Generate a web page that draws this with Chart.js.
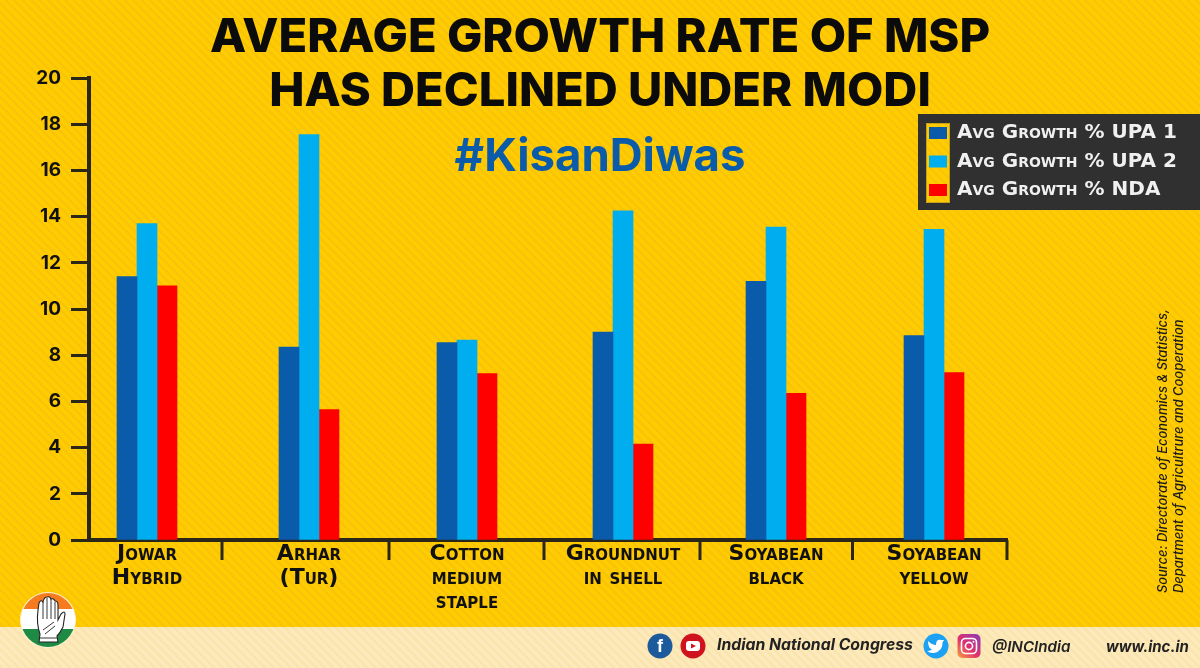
<!DOCTYPE html>
<html><head><meta charset="utf-8">
<style>html,body{margin:0;padding:0;background:#FFCC00}canvas{display:block}</style>
<script src="https://cdn.jsdelivr.net/npm/chart.js@4"></script>
</head><body><canvas id="c" width="1200" height="668"></canvas>
<script>
const categories = [["Jowar","Hybrid"],["Arhar","(Tur)"],["Cotton","medium","staple"],["Groundnut","in shell"],["Soyabean","black"],["Soyabean","yellow"]];
const upa1 = [11.4,8.35,8.55,9.0,11.2,8.85];
const upa2 = [13.7,17.55,8.65,14.25,13.55,13.45];
const nda  = [11.0,5.65,7.2,4.15,6.35,7.25];
const seriesNames = ["Avg Growth % UPA 1","Avg Growth % UPA 2","Avg Growth % NDA"];
const yTicks = [0,2,4,6,8,10,12,14,16,18,20];
const titleLines = ["AVERAGE GROWTH RATE OF MSP","HAS DECLINED UNDER MODI"];
const hashtag = "#KisanDiwas";
const sourceLines = ["Source: Directorate of Economics & Statistics,","Department of Agricultrure and Cooperation"];

const DARK = "#2a2618", FONT = "Inter, 'Noto Sans', sans-serif", CAPSFONT = "'DejaVu Sans', sans-serif";
const groupCentres = [147,309,467,623,776,934];   // uneven group spacing of the original layout
const bandEdges = [222,389,544,700,852.5,1007];

function stripes(ctx, x, y, w, h, base, line){
  ctx.save(); ctx.beginPath(); ctx.rect(x,y,w,h); ctx.clip();
  ctx.fillStyle = base; ctx.fillRect(x,y,w,h);
  ctx.strokeStyle = line; ctx.lineWidth = 2.2;
  for(let i=-700;i<1250;i+=8.5){ ctx.beginPath(); ctx.moveTo(i,0); ctx.lineTo(i+700,700); ctx.stroke(); }
  ctx.restore();
}
function drawLogo(ctx){
  const cx=48,cy=620,r=27;
  ctx.save();
  ctx.beginPath(); ctx.arc(cx,cy,r+1,0,Math.PI*2); ctx.fillStyle="#FDF3D0"; ctx.fill();
  ctx.beginPath(); ctx.arc(cx,cy,r,0,Math.PI*2); ctx.clip();
  ctx.fillStyle="#fff"; ctx.fillRect(cx-r,cy-r,2*r,2*r);
  ctx.fillStyle="#F47B20"; ctx.fillRect(cx-r,cy-r,2*r,16);
  ctx.fillStyle="#1E8A44"; ctx.fillRect(cx-r,629,2*r,20);
  ctx.restore();
  ctx.save();
  ctx.beginPath();
  ctx.moveTo(39,642); ctx.lineTo(40,634); ctx.bezierCurveTo(37,626,37,618,38,610);
  ctx.lineTo(39,603); ctx.quadraticCurveTo(41,599,43,602);
  ctx.quadraticCurveTo(44,597,47,597); ctx.quadraticCurveTo(50,596,51,599);
  ctx.quadraticCurveTo(54,598,55,601); ctx.quadraticCurveTo(58,601,58,605);
  ctx.lineTo(58,620); ctx.lineTo(61,614); ctx.quadraticCurveTo(65,610,65,614);
  ctx.lineTo(63,627); ctx.quadraticCurveTo(60,633,57,636); ctx.lineTo(58,642); ctx.closePath();
  ctx.fillStyle="#fff"; ctx.fill(); ctx.strokeStyle="#222"; ctx.lineWidth=1.1; ctx.stroke();
  ctx.beginPath();
  [[43,602,43,619],[47,598,47,619],[51,599,51,619],[55,602,55,619],[43,630,54,622],[45,634,55,626],[40,638,57,638]].forEach(l=>{ctx.moveTo(l[0],l[1]);ctx.lineTo(l[2],l[3]);});
  ctx.lineWidth=.9; ctx.stroke();
  ctx.restore();
}
function drawSocial(ctx){
  const Y=646;
  const circle=(x,c)=>{ctx.beginPath();ctx.arc(x,Y,12.5,0,Math.PI*2);ctx.fillStyle=c;ctx.fill();};
  ctx.save();
  circle(660,"#1C5A9C"); circle(693,"#D0121F"); circle(936,"#1DA1F2");
  ctx.fillStyle="#fff"; ctx.textAlign="center"; ctx.textBaseline="middle";
  ctx.font="700 18px 'Liberation Sans'"; ctx.fillText("f",660,Y+1);
  ctx.beginPath(); ctx.roundRect(686,Y-5,14,10,3); ctx.fill();
  ctx.fillStyle="#D0121F"; ctx.beginPath(); ctx.moveTo(691,Y-2.5); ctx.lineTo(696,Y); ctx.lineTo(691,Y+2.5); ctx.fill();
  ctx.save(); ctx.translate(32,0);
  ctx.fillStyle="#fff"; ctx.beginPath();
  ctx.moveTo(896,641); ctx.quadraticCurveTo(900,645,904,645); ctx.quadraticCurveTo(904,639,909,640);
  ctx.lineTo(912,640); ctx.lineTo(910.5,642.5); ctx.quadraticCurveTo(911,651,902,653);
  ctx.quadraticCurveTo(898,653.5,895,651); ctx.quadraticCurveTo(898,651,900,649.5);
  ctx.quadraticCurveTo(896,648,896,641); ctx.fill();
  ctx.restore();
  const g=ctx.createLinearGradient(958,658,980,634);
  g.addColorStop(0,"#F9A03C"); g.addColorStop(.45,"#E1306C"); g.addColorStop(1,"#8A3AB9");
  ctx.fillStyle=g; ctx.beginPath(); ctx.roundRect(957.5,634,23,24,5); ctx.fill();
  ctx.strokeStyle="#fff"; ctx.lineWidth=1.6;
  ctx.beginPath(); ctx.roundRect(961.5,638.5,15,15,4); ctx.stroke();
  ctx.beginPath(); ctx.arc(969,646,3.6,0,Math.PI*2); ctx.stroke();
  ctx.fillStyle="#fff"; ctx.beginPath(); ctx.arc(973.5,641.8,1,0,Math.PI*2); ctx.fill();
  ctx.restore();
}
const backdrop = {
  id:"backdrop",
  afterLayout(chart){
    const l = chart.legend;
    l.left=920.5; l.top=114.5; l.right=1199; l.bottom=260; l.width=278.5; l.height=145.5;
    chart.boxes.filter(b=>b.options && b.options.text && (b.options.text===hashtag||b.options.text===titleLines))
      .forEach(b=>{ b.left=0; b.right=1200; b.width=1200; });
  },
  beforeDraw(chart){
    const ctx=chart.ctx;
    stripes(ctx,0,0,1200,627,"#FFCC00","#F8C30A");
    stripes(ctx,0,627,1200,41,"#FCE9BC","#FBE3AC");
    ctx.fillStyle="#303030"; ctx.fillRect(918,114,282,96);
    stripes(ctx,926,123,24,80,"#FFCC00","#F8C30A");
    ctx.strokeStyle="#C9A118"; ctx.lineWidth=1; ctx.strokeRect(926.5,123.5,23,79);
  },
  afterDraw(chart){
    const ctx=chart.ctx, y0=chart.scales.y.getPixelForValue(0);
    ctx.save();
    ctx.strokeStyle=DARK; ctx.lineWidth=3;
    bandEdges.forEach(x=>{ctx.beginPath();ctx.moveTo(x,y0);ctx.lineTo(x,y0+20);ctx.stroke();});
    ctx.fillStyle="#1a1a1a"; ctx.textBaseline="middle";
    ctx.font="italic 500 12.9px "+FONT;
    [[1163,593,sourceLines[0]],[1179,593,sourceLines[1]]].forEach(s=>{
      ctx.save(); ctx.translate(s[0],s[1]); ctx.rotate(-Math.PI/2); ctx.fillText(s[2],0,0); ctx.restore();
    });
    ctx.fillStyle="#222";
    ctx.font="italic 700 15.8px "+FONT; ctx.fillText("Indian National Congress",717,645);
    ctx.font="italic 600 15.2px "+FONT; ctx.fillText("@INCIndia",992,647);
    ctx.font="italic 700 15px "+FONT; ctx.fillText("www.inc.in",1106,647);
    ctx.restore();
    drawSocial(ctx); drawLogo(ctx);
  }
};
const ds=(label,data,color)=>({label,data,backgroundColor:color,borderWidth:0,barThickness:20,grouped:true});
new Chart(document.getElementById("c"),{
  type:"bar",
  data:{labels:categories,datasets:[ds(seriesNames[0],upa1,"#0A5BAA"),ds(seriesNames[1],upa2,"#00AEEF"),ds(seriesNames[2],nda,"#FF0000")]},
  plugins:[backdrop],
  options:{
    responsive:false,animation:false,devicePixelRatio:1,
    layout:{padding:{top:0,left:0,right:193,bottom:0}},
    plugins:{
      tooltip:{enabled:false},
      title:{display:true,text:titleLines,color:"#0b0b0b",padding:{top:11,bottom:-41},
        font:{family:FONT,size:47.1,weight:"800",lineHeight:54/47.1}},
      subtitle:{display:true,text:hashtag,color:"#0A5BAA",padding:{top:52,bottom:-106},
        font:{family:FONT,size:45.5,weight:"700",lineHeight:54/45.5}},
      legend:{display:true,position:"chartArea",align:"start",
        labels:{boxWidth:18,boxHeight:12,padding:8.5,color:"#f0f0f0",
          font:{family:CAPSFONT,size:20,weight:"small-caps 700"}}}
    },
    scales:{
      x:{type:"category",offset:true,
        grid:{display:false,drawTicks:false},
        border:{display:true,color:DARK,width:4},
        ticks:{color:"#111",padding:2,maxRotation:0,minRotation:0,autoSkip:false,
          font:{family:CAPSFONT,size:22,weight:"small-caps 700",lineHeight:24/22}},
        afterFit(s){ s.height=128; s.getPixelForValue=v=>groupCentres[v]; }
      },
      y:{min:0,max:20,
        afterBuildTicks(s){ s.ticks=yTicks.map(v=>({value:v})); },
        grid:{drawOnChartArea:false,drawTicks:true,tickLength:18,tickWidth:3,tickColor:DARK},
        border:{display:true,color:DARK,width:4},
        ticks:{color:"#111",padding:10,font:{family:FONT,size:19,weight:"700"}},
        afterFit(s){ s.width=89; }
      }
    }
  }
});
</script></body></html>
